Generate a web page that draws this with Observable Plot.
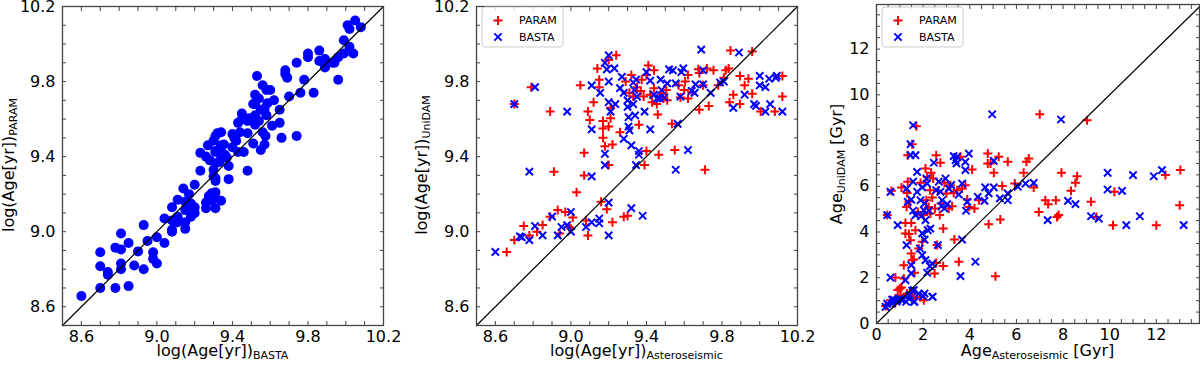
<!DOCTYPE html>
<html><head><meta charset="utf-8">
<script src="https://cdn.jsdelivr.net/npm/d3@7"></script>
<script src="https://cdn.jsdelivr.net/npm/@observablehq/plot@0.6"></script>
<style>
body{margin:0;background:#fff;}
#wrap{position:relative;width:1200px;height:366px;overflow:hidden;background:#fff;}
#wrap svg{position:absolute;top:0;}
</style></head><body><div id="wrap"></div>
<script>
// ---------- data ----------
// Panel 1: [log age BASTA, log age PARAM]
const p1BastaParam = [[8.60,8.657],[8.70,8.70],[8.70,8.816],[8.70,8.89],[8.74,8.785],[8.74,8.77],[8.78,8.70],[8.78,8.915],[8.81,8.905],[8.81,8.99],[8.81,8.83],[8.81,8.80],[8.85,8.71],[8.85,8.94],[8.88,8.82],[8.90,8.895],[8.93,9.035],[8.93,8.80],[8.95,8.95],[8.98,8.89],[8.98,8.855],[9.00,8.97],[9.00,8.83],[9.04,8.94],[9.04,9.07],[9.08,9.00],[9.08,9.01],[9.08,9.13],[9.08,9.06],[9.11,9.17],[9.11,9.08],[9.11,9.05],[9.14,9.23],[9.15,9.16],[9.15,9.115],[9.15,9.05],[9.15,9.015],[9.17,9.20],[9.18,9.15],[9.18,9.08],[9.19,9.115],[9.20,9.25],[9.20,9.13],[9.20,9.10],[9.23,9.42],[9.23,9.325],[9.26,9.40],[9.26,9.125],[9.26,9.155],[9.27,9.46],[9.275,9.19],[9.28,9.38],[9.29,9.205],[9.29,9.165],[9.30,9.485],[9.30,9.33],[9.30,9.295],[9.31,9.51],[9.31,9.43],[9.31,9.425],[9.31,9.365],[9.31,9.285],[9.31,9.27],[9.31,9.21],[9.31,9.18],[9.31,9.125],[9.32,9.525],[9.33,9.37],[9.34,9.53],[9.34,9.46],[9.34,9.165],[9.34,9.39],[9.34,9.45],[9.34,9.41],[9.355,9.465],[9.36,9.41],[9.37,9.395],[9.38,9.35],[9.38,9.28],[9.40,9.45],[9.40,9.52],[9.41,9.50],[9.42,9.485],[9.43,9.425],[9.43,9.58],[9.44,9.53],[9.45,9.63],[9.45,9.60],[9.46,9.425],[9.465,9.60],[9.48,9.525],[9.48,9.325],[9.48,9.59],[9.49,9.605],[9.51,9.47],[9.51,9.68],[9.52,9.73],[9.52,9.57],[9.52,9.68],[9.52,9.62],[9.53,9.83],[9.54,9.71],[9.54,9.59],[9.55,9.435],[9.55,9.65],[9.56,9.78],[9.56,9.53],[9.57,9.465],[9.57,9.655],[9.575,9.51],[9.58,9.755],[9.58,9.62],[9.585,9.685],[9.60,9.755],[9.61,9.565],[9.62,9.70],[9.65,9.65],[9.65,9.58],[9.66,9.50],[9.68,9.86],[9.68,9.84],[9.69,9.82],[9.70,9.72],[9.74,9.90],[9.74,9.51],[9.76,9.74],[9.78,9.81],[9.80,9.95],[9.80,9.93],[9.83,9.74],[9.86,9.965],[9.86,9.91],[9.89,9.88],[9.89,9.92],[9.89,9.875],[9.93,9.90],[9.94,9.90],[9.96,9.81],[9.96,9.93],[9.99,10.02],[9.99,9.95],[10.01,10.10],[10.02,9.985],[10.02,10.08],[10.04,9.95],[10.05,10.125],[10.08,10.09]];

// Panel 2: [log age asteroseismic, log age UniDAM]
const p2Param = [[8.66,8.892],[8.70,8.955],[8.70,9.68],[8.75,9.03],[8.78,8.98],[8.79,9.77],[8.82,9.00],[8.85,9.035],[8.89,9.64],[8.89,9.08],[8.91,9.32],[8.93,9.115],[8.94,8.99],[8.97,9.105],[8.99,9.025],[9.00,9.015],[9.01,9.075],[9.03,9.21],[9.05,9.78],[9.07,9.42],[9.07,9.30],[9.08,9.06],[9.09,8.98],[9.09,9.64],[9.10,9.595],[9.12,9.69],[9.14,9.87],[9.15,9.81],[9.15,9.77],[9.16,9.16],[9.17,9.59],[9.17,9.55],[9.17,9.50],[9.18,9.455],[9.19,9.12],[9.20,9.355],[9.20,9.915],[9.20,9.56],[9.21,9.66],[9.21,9.605],[9.22,9.465],[9.22,9.05],[9.24,9.94],[9.26,9.53],[9.28,9.08],[9.29,9.80],[9.30,9.085],[9.31,9.74],[9.32,9.835],[9.33,9.72],[9.35,9.77],[9.36,9.57],[9.37,9.75],[9.375,9.81],[9.385,9.72],[9.39,9.355],[9.40,9.43],[9.40,9.835],[9.41,9.885],[9.42,9.73],[9.43,9.69],[9.44,9.765],[9.44,9.86],[9.455,9.68],[9.46,9.625],[9.465,9.41],[9.48,9.735],[9.49,9.71],[9.505,9.755],[9.51,9.70],[9.535,9.575],[9.55,9.435],[9.57,9.78],[9.58,9.715],[9.60,9.755],[9.605,9.80],[9.62,9.835],[9.62,9.71],[9.64,9.745],[9.675,9.865],[9.68,9.845],[9.68,9.65],[9.70,9.78],[9.71,9.33],[9.72,9.87],[9.73,9.67],[9.755,9.86],[9.78,9.78],[9.81,9.82],[9.82,9.86],[9.835,9.87],[9.84,9.69],[9.845,9.965],[9.86,9.73],[9.895,9.83],[9.895,9.68],[9.92,9.78],[9.94,9.815],[9.96,9.96],[9.96,9.735],[10.005,9.64],[10.08,9.64],[10.12,9.83],[10.12,9.72]];
const p2Basta = [[8.60,8.892],[8.70,9.68],[8.73,8.975],[8.74,8.97],[8.78,8.955],[8.78,9.32],[8.81,9.77],[8.81,9.03],[8.85,8.98],[8.90,9.08],[8.93,8.98],[8.95,9.025],[8.98,9.64],[8.98,9.035],[9.00,9.105],[9.00,9.00],[9.08,9.025],[9.11,9.05],[9.11,9.78],[9.11,9.545],[9.11,9.295],[9.15,9.07],[9.15,9.045],[9.155,9.74],[9.18,9.90],[9.18,9.415],[9.18,9.355],[9.19,9.865],[9.20,9.94],[9.20,9.80],[9.20,9.69],[9.20,9.155],[9.20,8.98],[9.21,9.64],[9.23,9.87],[9.235,9.68],[9.26,9.765],[9.27,9.825],[9.28,9.495],[9.28,9.74],[9.30,9.70],[9.30,9.665],[9.305,9.61],[9.305,9.56],[9.31,9.54],[9.32,9.46],[9.32,9.125],[9.33,9.795],[9.33,9.68],[9.335,9.755],[9.34,9.62],[9.345,9.81],[9.345,9.355],[9.35,9.72],[9.36,9.43],[9.36,9.41],[9.38,9.085],[9.39,9.64],[9.40,9.85],[9.42,9.805],[9.42,9.545],[9.44,9.73],[9.455,9.71],[9.47,9.71],[9.475,9.81],[9.48,9.755],[9.495,9.715],[9.51,9.79],[9.52,9.865],[9.54,9.86],[9.555,9.79],[9.565,9.575],[9.555,9.33],[9.58,9.72],[9.585,9.85],[9.595,9.87],[9.62,9.435],[9.64,9.75],[9.655,9.74],[9.66,9.785],[9.69,9.97],[9.70,9.86],[9.70,9.785],[9.74,9.74],[9.79,9.795],[9.81,9.80],[9.86,9.66],[9.89,9.955],[9.92,9.73],[9.97,9.68],[9.98,9.67],[10.00,9.78],[10.00,9.83],[10.03,9.77],[10.03,9.64],[10.05,9.815],[10.055,9.68],[10.085,9.82],[10.09,9.83],[10.12,9.64]];

// Panel 3: [age asteroseismic (Gyr), age UniDAM (Gyr)]
const p3Param = [[0.39,0.76],[0.46,4.74],[0.64,5.80],[0.71,0.87],[0.81,1.09],[0.81,2.01],[0.91,1.46],[1.07,1.57],[1.07,5.95],[1.17,2.55],[1.17,1.97],[1.24,4.40],[1.24,3.94],[1.29,5.10],[1.31,5.71],[1.34,7.36],[1.34,6.20],[1.39,3.91],[1.39,5.32],[1.43,1.34],[1.46,3.64],[1.49,3.06],[1.49,4.40],[1.53,7.84],[1.53,2.77],[1.60,2.80],[1.63,2.22],[1.67,4.08],[1.71,8.63],[1.77,4.88],[1.81,3.28],[1.86,1.17],[1.89,6.15],[1.96,3.57],[2.03,4.74],[2.10,6.78],[2.14,5.39],[2.17,6.41],[2.24,5.10],[2.29,5.83],[2.31,4.81],[2.34,6.59],[2.39,5.51],[2.43,6.34],[2.49,2.19],[2.51,5.03],[2.56,7.36],[2.56,2.65],[2.60,3.43],[2.63,5.80],[2.71,4.74],[2.74,7.03],[2.77,5.25],[2.86,4.15],[2.86,2.51],[2.91,6.15],[3.00,5.69],[3.10,5.03],[3.17,6.05],[3.24,5.13],[3.31,5.71],[3.34,3.67],[3.46,5.83],[3.53,2.70],[3.60,7.29],[3.67,5.90],[3.81,6.05],[3.89,5.42],[3.96,5.10],[4.10,6.73],[4.20,5.03],[4.39,5.39],[4.77,7.43],[4.77,7.00],[4.81,4.34],[4.89,7.00],[5.03,6.59],[5.10,2.07],[5.24,7.29],[5.31,4.55],[5.39,6.01],[5.63,7.07],[5.93,6.12],[6.31,6.59],[6.43,7.07],[6.53,7.22],[6.74,5.95],[6.96,4.88],[7.00,9.15],[7.24,5.39],[7.36,5.22],[7.69,5.39],[7.74,4.66],[7.81,4.74],[7.93,6.59],[8.34,5.80],[8.53,6.15],[8.60,6.44],[9.03,8.89],[9.20,5.32],[9.43,4.66],[10.14,4.30],[10.20,5.76],[12.00,4.30],[12.39,6.49],[13.03,6.71],[13.00,5.17],[0.60,1.02],[0.81,0.95],[1.03,1.24],[1.17,1.14],[1.31,1.31],[1.53,1.38],[1.60,1.09],[1.89,1.17],[2.03,1.02],[1.00,1.53]];
const p3Basta = [[0.39,0.73],[0.46,4.74],[0.60,5.76],[0.60,2.01],[0.67,0.87],[0.77,1.02],[0.86,0.95],[0.91,4.30],[1.00,1.09],[1.10,1.02],[1.24,1.90],[1.29,5.90],[1.29,3.43],[1.34,5.32],[1.39,1.09],[1.46,7.84],[1.46,7.36],[1.49,5.42],[1.49,2.19],[1.49,2.55],[1.57,8.67],[1.57,6.20],[1.57,4.93],[1.60,1.46],[1.63,0.95],[1.67,7.36],[1.67,4.74],[1.74,6.63],[1.74,5.76],[1.86,3.28],[1.89,5.39],[1.91,4.69],[1.96,5.95],[1.96,2.99],[1.96,3.94],[2.00,1.20],[2.03,4.96],[2.06,5.25],[2.06,3.67],[2.10,2.77],[2.10,4.52],[2.14,6.34],[2.17,6.12],[2.17,2.22],[2.20,4.08],[2.24,4.93],[2.29,2.51],[2.31,4.15],[2.39,1.17],[2.39,2.62],[2.46,7.03],[2.56,5.83],[2.63,3.43],[2.67,6.20],[2.74,5.76],[2.79,5.13],[2.81,5.39],[2.91,5.03],[2.96,6.34],[3.03,5.22],[3.10,5.90],[3.20,6.05],[3.31,7.32],[3.39,7.14],[3.43,7.00],[3.46,7.29],[3.53,5.64],[3.60,2.07],[3.67,3.67],[3.67,6.12],[3.81,7.07],[3.81,6.71],[3.84,4.93],[3.89,5.32],[3.96,7.43],[4.24,2.70],[4.34,5.54],[4.63,5.36],[4.66,5.95],[4.81,5.69],[4.96,9.15],[5.03,5.95],[5.03,7.11],[5.29,5.47],[5.63,5.39],[5.63,5.69],[6.06,5.98],[6.39,6.12],[6.74,6.15],[7.34,4.52],[7.91,8.92],[8.21,5.36],[8.53,5.22],[9.20,4.69],[9.53,4.59],[9.91,6.59],[9.91,5.86],[10.53,5.80],[10.71,4.30],[11.00,6.49],[11.29,4.69],[11.89,6.44],[12.24,6.71],[13.17,4.30],[0.46,0.87],[0.67,1.04],[0.89,1.02],[1.27,0.95],[1.41,1.24],[1.60,0.95],[1.81,1.31],[2.06,1.31],[2.41,1.17],[1.53,1.43]];

// axis settings
const logDomain = [8.5, 10.2];
const logTicks = [8.6, 9.0, 9.4, 9.8, 10.2];
const logMinor = d3.range(85, 103).map(v => v / 10);
const ageXDomain = [0, 13.85];
const ageYDomain = [0, 13.95];
const ageTicks = [0, 2, 4, 6, 8, 10, 12];
const ageMinor = d3.range(0, 28).map(v => v / 2);
const seriesNames = ["PARAM", "BASTA"];
const RED = "#ff0000", BLUE = "#0000ff";
const FONT = "DejaVu Sans";
const PLUS_R = 3.0, TIMES_R = 3.4;

const wrap = document.getElementById("wrap");

function makePanel({left, width, ml, mr, mt, mb, xDomain, yDomain, xTicks, yTicks, xMinor, yMinor, fmt, marks}) {
  const svg = Plot.plot({
    width, height: 366,
    marginLeft: ml, marginRight: mr, marginTop: mt, marginBottom: mb,
    style: {background: "transparent", overflow: "visible", fontFamily: FONT, fontSize: "16px", color: "#000"},
    x: {domain: xDomain, label: null},
    y: {domain: yDomain, label: null},
    marks: [
      ...marks,
      Plot.axisX(xMinor, {anchor: "bottom", tickSize: -4, fill: "none", stroke: "#444", label: null}),
      Plot.axisX(xMinor, {anchor: "top", tickSize: -4, fill: "none", stroke: "#444", label: null}),
      Plot.axisY(yMinor, {anchor: "left", tickSize: -4, fill: "none", stroke: "#444", label: null}),
      Plot.axisY(yMinor, {anchor: "right", tickSize: -4, fill: "none", stroke: "#444", label: null}),
      Plot.axisX(xTicks, {anchor: "bottom", tickSize: 0, tickPadding: 5, tickFormat: fmt, fill: "#000", fontSize: 16, label: null}),
      Plot.axisY(yTicks, {anchor: "left", tickSize: 0, tickPadding: 7, tickFormat: fmt, fill: "#000", fontSize: 16, label: null}),
      Plot.frame({stroke: "#444", strokeWidth: 1.3})
    ]
  });
  d3.select(svg).selectAll("g[aria-label$='tick label']")
    .attr("font-size", 16).style("font-size", "16px").style("font-family", FONT);
  svg.style.left = left + "px";
  wrap.appendChild(svg);
  return svg;
}

function addLabel(svg, x, y, rotate, main, sub, after) {
  const t = d3.select(svg).append("text")
    .attr("transform", `translate(${x},${y})` + (rotate ? " rotate(-90)" : ""))
    .attr("text-anchor", "middle").attr("fill", "#000")
    .style("font-family", FONT).style("font-size", "16px");
  t.append("tspan").text(main);
  t.append("tspan").attr("dy", 3).style("font-size", "11px").text(sub);
  if (after) t.append("tspan").attr("dy", -3).style("font-size", "16px").text(after);
}

function addLegend(svg, x0, y0) {
  const g = d3.select(svg).append("g");
  g.append("rect").attr("x", x0).attr("y", y0).attr("width", 81).attr("height", 40).attr("rx", 3)
    .attr("fill", "#fff").attr("fill-opacity", 0.8).attr("stroke", "#ccc");
  const syms = [[d3.symbolPlus, PLUS_R, RED], [d3.symbolTimes, TIMES_R, BLUE]];
  syms.forEach(([s, r, c], i) => {
    const cy = y0 + 13.5 + i * 16.5;
    g.append("path").attr("d", d3.symbol(s, r * r * Math.PI)()).attr("transform", `translate(${x0 + 16},${cy})`)
      .attr("fill", "none").attr("stroke", c).attr("stroke-width", 2);
    g.append("text").attr("x", x0 + 37).attr("y", cy).attr("dy", "0.35em").attr("fill", "#000")
      .attr("text-anchor", "start")
      .style("font-family", FONT).style("font-size", "11px").text(seriesNames[i]);
  });
}

const fmtLog = d => d.toFixed(1);
const fmtAge = d => String(d);
const P = d => d[0], Q = d => d[1];

// Panel 1
const s1 = makePanel({left: 0, width: 400, ml: 62, mr: 17, mt: 6, mb: 41,
  xDomain: logDomain, yDomain: logDomain, xTicks: logTicks, yTicks: logTicks, xMinor: logMinor, yMinor: logMinor, fmt: fmtLog,
  marks: [
    Plot.dot(p1BastaParam, {x: P, y: Q, r: 5, fill: BLUE, stroke: null}),
    Plot.line(logDomain.map(v => [v, v]), {x: P, y: Q, stroke: "#000", strokeWidth: 1.2})
  ]});
addLabel(s1, 222.5, 356, false, "log(Age[yr])", "BASTA");
addLabel(s1, 13.5, 165, true, "log(Age[yr])", "PARAM");

// Panel 2
const s2 = makePanel({left: 410, width: 400, ml: 66, mr: 13, mt: 6, mb: 41,
  xDomain: logDomain, yDomain: logDomain, xTicks: logTicks, yTicks: logTicks, xMinor: logMinor, yMinor: logMinor, fmt: fmtLog,
  marks: [
    Plot.dot(p2Param, {x: P, y: Q, symbol: "plus", r: PLUS_R, stroke: RED, strokeWidth: 2}),
    Plot.dot(p2Basta, {x: P, y: Q, symbol: "times", r: TIMES_R, stroke: BLUE, strokeWidth: 2}),
    Plot.line(logDomain.map(v => [v, v]), {x: P, y: Q, stroke: "#000", strokeWidth: 1.2})
  ]});
addLabel(s2, 226.5, 356, false, "log(Age[yr])", "Asteroseismic");
addLabel(s2, 17, 165, true, "log(Age[yr])", "UniDAM");
addLegend(s2, 72, 7);

// Panel 3
const s3 = makePanel({left: 810, width: 390, ml: 66, mr: 1, mt: 4, mb: 43,
  xDomain: ageXDomain, yDomain: ageYDomain, xTicks: ageTicks, yTicks: ageTicks, xMinor: ageMinor, yMinor: ageMinor, fmt: fmtAge,
  marks: [
    Plot.dot(p3Param, {x: P, y: Q, symbol: "plus", r: PLUS_R, stroke: RED, strokeWidth: 2}),
    Plot.dot(p3Basta, {x: P, y: Q, symbol: "times", r: TIMES_R, stroke: BLUE, strokeWidth: 2}),
    Plot.line([0, ageXDomain[1]].map(v => [v, v]), {x: P, y: Q, stroke: "#000", strokeWidth: 1.2})
  ]});
addLabel(s3, 227.5, 356, false, "Age", "Asteroseismic", "\u00a0[Gyr]");
addLabel(s3, 32, 164, true, "Age", "UniDAM", "\u00a0[Gyr]");
addLegend(s3, 72, 7);
</script></body></html>
